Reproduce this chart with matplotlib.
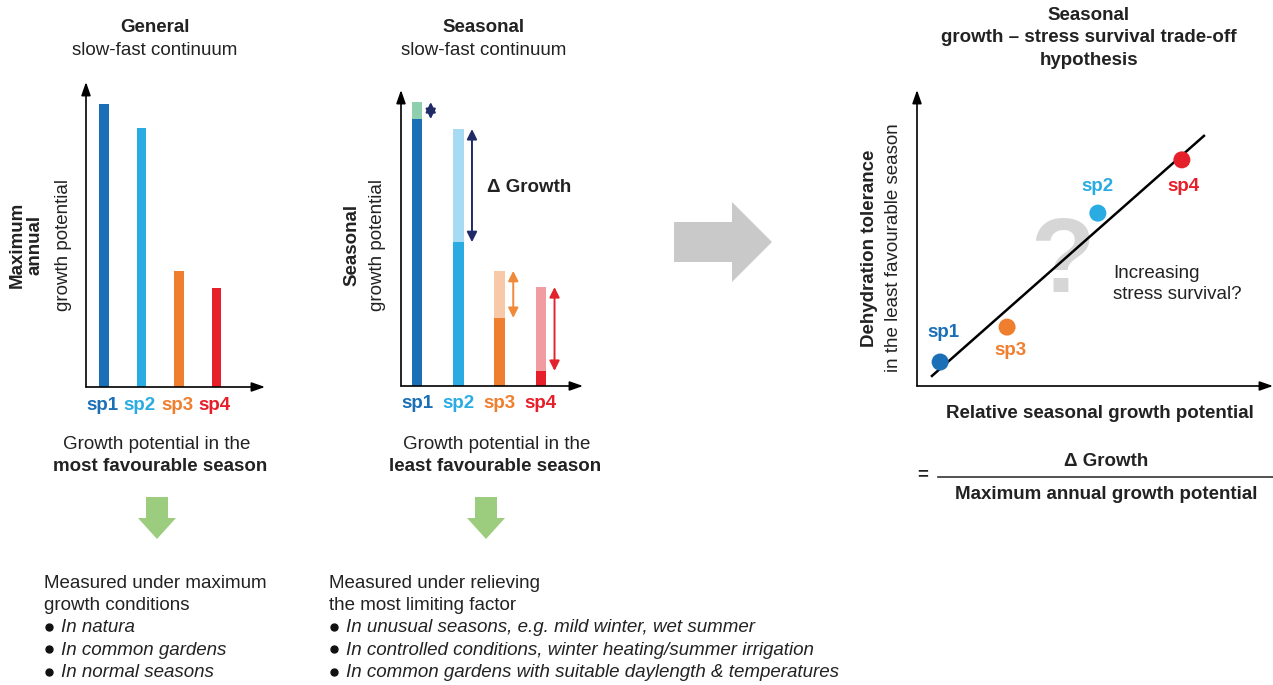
import numpy as np
import matplotlib
matplotlib.use('Agg')
import matplotlib.pyplot as plt
from matplotlib.patches import FancyArrow, Polygon

plt.rcParams['font.family'] = ['Liberation Sans', 'DejaVu Sans']

# data
species = ["sp1", "sp2", "sp3", "sp4"]
colors = ["#1b6fb7", "#2aace2", "#ef7f2e", "#e6202a"]
light_colors = ["#8fcfae", "#a7dbf3", "#f8c9a9", "#f09ca1"]
arrow_colors = ["#1f2a66", "#1f2a66", "#ef8a3a", "#e0232c"]

max_annual = [92.8, 84.9, 38.0, 32.5]        # general panel
seasonal_max = [95.9, 86.8, 38.9, 33.4]      # seasonal panel, full bar
seasonal_least = [90.2, 48.6, 23.0, 5.1]     # least favourable season

rel_growth = [0.065, 0.508, 0.253, 0.744]    # right panel x
dehyd_tol = [0.081, 0.584, 0.199, 0.764]     # right panel y
trend_x = [0.042, 0.806]
trend_y = [0.034, 0.845]

W, H = 1273, 685
fig = plt.figure(figsize=(W / 100, H / 100), dpi=100)

# background axes in pixel coords for free text and shapes
bg = fig.add_axes([0, 0, 1, 1])
bg.set_xlim(0, W)
bg.set_ylim(H, 0)
bg.axis('off')


def px_axes(left, top, right, bottom):
    return fig.add_axes([left / W, 1 - bottom / H, (right - left) / W, (bottom - top) / H])


def draw_axes_arrows(ax):
    for s in ax.spines.values():
        s.set_visible(False)
    ax.set_xticks([])
    ax.set_yticks([])
    ax.patch.set_alpha(0)
    kw = dict(arrowstyle='-|>,head_length=0.8,head_width=0.28', color='k', lw=1.2, shrinkA=0, shrinkB=0)
    ax.annotate('', xy=(0, 1), xytext=(0, 0), xycoords='axes fraction', arrowprops=kw)
    ax.annotate('', xy=(1, 0), xytext=(0, 0), xycoords='axes fraction', arrowprops=kw)


txt = dict(ha='center', va='center', color='#222222')
fs = 13.5

# ---------- left panel: general ----------
ax1 = px_axes(86, 82, 265, 387)
x = np.arange(len(species))
ax1.bar(x, max_annual, width=0.25, color=colors)
ax1.set_xlim(-0.48, 4.29)
ax1.set_ylim(0, 100)
draw_axes_arrows(ax1)
for i, sp in enumerate(species):
    ax1.text(i - 0.05, -6, sp, color=colors[i], fontsize=fs, fontweight='bold', ha='center', va='center', clip_on=False)

bg.text(155, 27, "General", fontsize=fs, fontweight='bold', **txt)
bg.text(155, 50, "slow-fast continuum", fontsize=fs, **txt)
bg.text(17, 245, "Maximum", fontsize=fs, fontweight='bold', rotation=90, **txt)
bg.text(35, 245, "annual", fontsize=fs, fontweight='bold', rotation=90, **txt)
bg.text(64, 245, "growth potential", fontsize=fs, rotation=90, **txt)

# ---------- middle panel: seasonal ----------
ax2 = px_axes(401, 90, 583, 386)
ax2.bar(x, seasonal_max, width=0.25, color=light_colors)
ax2.bar(x, seasonal_least, width=0.25, color=colors)
ax2.set_xlim(-0.39, 4.02)
ax2.set_ylim(0, 100)
draw_axes_arrows(ax2)
for i, sp in enumerate(species):
    ax2.annotate('', xy=(i + 0.33, seasonal_max[i]), xytext=(i + 0.33, seasonal_least[i]),
                 arrowprops=dict(arrowstyle='<|-|>,head_length=0.6,head_width=0.3',
                                 color=arrow_colors[i], lw=1.4, shrinkA=0, shrinkB=0))
    ax2.text(i, -6, sp, color=colors[i], fontsize=fs, fontweight='bold', ha='center', va='center', clip_on=False)
ax2.text(1.7, 67, "Δ Growth", fontsize=fs, fontweight='bold', ha='left', va='center', color='#222222')

bg.text(484, 27, "Seasonal", fontsize=fs, fontweight='bold', **txt)
bg.text(484, 50, "slow-fast continuum", fontsize=fs, **txt)
bg.text(352, 245, "Seasonal", fontsize=fs, fontweight='bold', rotation=90, **txt)
bg.text(378, 245, "growth potential", fontsize=fs, rotation=90, **txt)

# captions under the bar panels
bg.text(157, 444, "Growth potential in the", fontsize=fs, **txt)
bg.text(160, 466, "most favourable season", fontsize=fs, fontweight='bold', **txt)
bg.text(497, 444, "Growth potential in the", fontsize=fs, **txt)
bg.text(495, 466, "least favourable season", fontsize=fs, fontweight='bold', **txt)

# green down arrows
for cx in [157, 486]:
    bg.add_patch(FancyArrow(cx, 497, 0, 42, width=22, head_width=38, head_length=21,
                            length_includes_head=True, color='#9ccc7e', lw=0))

# big grey arrow
bg.add_patch(Polygon([[674, 222], [732, 222], [732, 202], [772, 242], [732, 282], [732, 262], [674, 262]],
                     closed=True, color='#c9c9c9', lw=0))

# bottom text blocks
left_lines = ["Measured under maximum", "growth conditions"]
left_bullets = ["In natura", "In common gardens", "In normal seasons"]
mid_lines = ["Measured under relieving", "the most limiting factor"]
mid_bullets = ["In unusual seasons, e.g. mild winter, wet summer",
               "In controlled conditions, winter heating/summer irrigation",
               "In common gardens with suitable daylength & temperatures"]

for x0, lines, bullets in [(44, left_lines, left_bullets), (329, mid_lines, mid_bullets)]:
    y = 584
    for ln in lines:
        bg.text(x0, y, ln, fontsize=fs, ha='left', va='center', color='#222222')
        y += 22
    for b in bullets:
        bg.plot(x0 + 5, y - 1, 'o', color='#111111', markersize=5)
        bg.text(x0 + 17, y, b, fontsize=fs, style='italic', ha='left', va='center', color='#222222')
        y += 22.3

# ---------- right panel: trade-off ----------
ax3 = px_axes(917, 90, 1273, 386)
ax3.set_xlim(0, 1)
ax3.set_ylim(0, 1)
draw_axes_arrows(ax3)
ax3.text(0.41, 0.41, "?", fontsize=76, color='#d6d6d6', ha='center', va='center', fontweight='bold')
ax3.plot(trend_x, trend_y, color='k', lw=1.8, zorder=3)
ax3.scatter(rel_growth, dehyd_tol, s=150, c=colors, zorder=4, edgecolors='none')
label_off = [(0.01, 0.1), (0.0, 0.09), (0.01, -0.08), (0.005, -0.09)]
for i, sp in enumerate(species):
    ax3.text(rel_growth[i] + label_off[i][0], dehyd_tol[i] + label_off[i][1], sp, color=colors[i],
             fontsize=fs, fontweight='bold', ha='center', va='center')
ax3.text(0.55, 0.345, "Increasing\nstress survival?", fontsize=fs, ha='left', va='center',
         color='#222222', linespacing=1.25)

bg.text(1089, 15, "Seasonal", fontsize=fs, fontweight='bold', **txt)
bg.text(1089, 37, "growth – stress survival trade-off", fontsize=fs, fontweight='bold', **txt)
bg.text(1089, 60, "hypothesis", fontsize=fs, fontweight='bold', **txt)
bg.text(869, 248, "Dehydration tolerance", fontsize=fs, fontweight='bold', rotation=90, **txt)
bg.text(893, 248, "in the least favourable season", fontsize=fs, rotation=90, **txt)
bg.text(1100, 413, "Relative seasonal growth potential", fontsize=fs, fontweight='bold', **txt)
bg.text(923, 475, "=", fontsize=fs, fontweight='bold', **txt)
bg.plot([938, 1273], [477, 477], color='#333333', lw=1.2)
bg.text(1106, 461, "Δ Growth", fontsize=fs, fontweight='bold', **txt)
bg.text(1106, 494, "Maximum annual growth potential", fontsize=fs, fontweight='bold', **txt)

fig.savefig("out.png", dpi=100)
